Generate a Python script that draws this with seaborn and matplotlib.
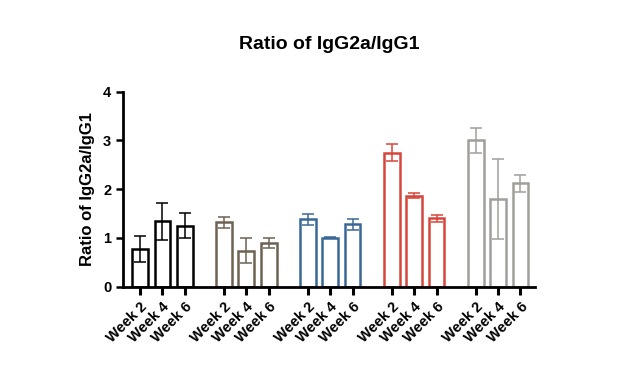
import pandas as pd
import numpy as np
import matplotlib.pyplot as plt
import seaborn as sns

groups = ['G1', 'G2', 'G3', 'G4', 'G5']
weeks = ['Week 2', 'Week 4', 'Week 6']
colors = ['#000000', '#6e6253', '#3a6896', '#d6463c', '#a09f9a']

ratio_mean = [
    [0.77, 1.34, 1.25],
    [1.32, 0.74, 0.90],
    [1.38, 1.00, 1.28],
    [2.75, 1.87, 1.40],
    [3.00, 1.80, 2.12],
]
ratio_err = [
    [0.27, 0.38, 0.26],
    [0.11, 0.26, 0.10],
    [0.11, 0.01, 0.11],
    [0.18, 0.05, 0.08],
    [0.25, 0.82, 0.17],
]

group_step = 3.75
rows = []
for gi, g in enumerate(groups):
    for wi, w in enumerate(weeks):
        rows.append({'group': g, 'week': w, 'x': gi * group_step + wi,
                     'ratio': ratio_mean[gi][wi], 'err': ratio_err[gi][wi],
                     'color': colors[gi]})
df = pd.DataFrame(rows)

sns.set_style('ticks', {'text.color': 'black', 'axes.labelcolor': 'black',
                        'xtick.color': 'black', 'ytick.color': 'black',
                        'axes.edgecolor': 'black'})
plt.rcParams['font.family'] = ['Liberation Sans', 'DejaVu Sans']
plt.rcParams['font.weight'] = 'bold'

fig = plt.figure(figsize=(6.42, 3.71), dpi=100)
ax = fig.add_axes([0.1916, 0.2272, 0.6417, 0.5256])

sns.barplot(data=df, x='x', y='ratio', hue='group', palette=colors,
            native_scale=True, dodge=False, width=0.7, fill=False,
            linewidth=1.8, errorbar=None, legend=False, ax=ax)

for _, r in df.iterrows():
    ax.errorbar(r['x'], r['ratio'], yerr=r['err'], color=r['color'],
                capsize=4, elinewidth=1.1, capthick=1.1, fmt='none', zorder=3)

ax.set_xlim(-0.76, 17.65)
ax.set_ylim(0, 4)
ax.set_yticks([0, 1, 2, 3, 4])
ax.set_xticks(df['x'])
ax.set_xticklabels(df['week'], rotation=45, ha='right', rotation_mode='anchor',
                   fontsize=10.5, fontweight='bold')
ax.tick_params(axis='y', labelsize=10.5, width=1.8, length=5)
ax.tick_params(axis='x', width=2.2, length=6)
for lab in ax.get_yticklabels():
    lab.set_fontweight('bold')
ax.set_xlabel('')
ax.set_ylabel('Ratio of IgG2a/IgG1', fontsize=12, fontweight='bold', labelpad=6)
ax.set_title('Ratio of IgG2a/IgG1', fontsize=14, fontweight='bold', pad=31)
sns.despine(ax=ax)
for s in ['left', 'bottom']:
    ax.spines[s].set_linewidth(2)

plt.savefig('out.png', dpi=100)
